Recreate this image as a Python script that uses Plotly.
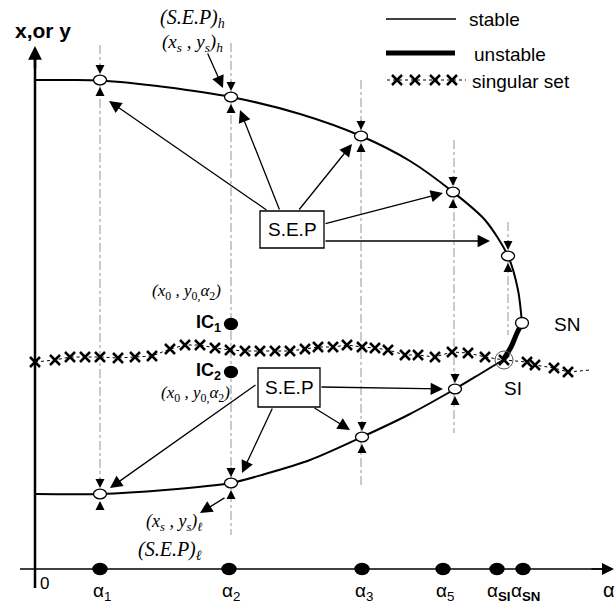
import plotly.graph_objects as go

# ---------------- data (diagram units, y grows downward) ----------------
alpha_labels = ["α<sub>1</sub>", "α<sub>2</sub>", "α<sub>3</sub>", "α<sub>5</sub>",
                "α<sub><b>SI</b></sub>", "α<sub><b>SN</b></sub>"]
alpha_pos = [100, 229, 362, 443, 497, 523]
alpha_axis_level = 569

upper_curve_x = [35, 70, 100, 165, 231, 300, 361, 410, 453, 485, 508, 518, 522]
upper_curve_y = [80, 80, 80.5, 87, 97, 114, 136, 161, 192, 220, 256, 290, 323]
unstable_x = [522, 517, 511, 503]
unstable_y = [323, 333, 347, 360]
lower_curve_x = [503, 480, 455, 410, 362, 310, 265, 231, 165, 100, 35]
lower_curve_y = [360, 374, 389, 414, 437, 460, 474, 483, 490, 494, 494]

sep_upper_x = [100, 231, 361, 453, 508]
sep_upper_y = [80, 97, 136, 192, 256]
sep_lower_x = [100, 231, 362, 455]
sep_lower_y = [494, 483, 437, 389]
sn_point = (522, 323)
si_point = (504, 360)

singular_x = [35, 55, 70, 85, 100, 118, 135, 152, 170, 185, 200, 215, 230, 245, 260, 275,
              290, 305, 318, 333, 347, 362, 375, 388, 405, 418, 435, 452, 468, 485, 504,
              527, 535, 554, 568]
singular_y = [362, 360, 357, 357, 357, 358, 357, 356, 349, 345, 345, 348, 350, 351, 351, 351,
              351, 349, 347, 347, 345, 347, 348, 350, 355, 355, 357, 352, 353, 357, 360,
              362, 365, 368, 372]
singular_tail_x = [568, 590]
singular_tail_y = [372, 370]

ic_x = [231, 231]
ic_y = [324, 372]

# dashed guide columns: (x, top, bottom)
guide_x = [100, 231, 361, 454, 508]
guide_top = [45, 43, 80, 140, 222]
guide_bottom = [485, 535, 487, 433, 335]

# pointer arrows (tail -> tip)
arrow_tail_x = [268, 280, 298, 324, 324, 257, 273, 313, 320, 207, 226]
arrow_tail_y = [211, 211, 211, 224, 241, 384, 407, 407, 387, 52, 497]
arrow_tip_x = [109, 240, 352, 443, 490, 110, 242, 350, 443, 223, 200]
arrow_tip_y = [101, 110, 144, 193, 241, 488, 473, 430, 389, 88, 513]

boxes = [(260, 211, 324, 248), (258, 368, 320, 407)]

fig = go.Figure()

# axes
fig.add_trace(go.Scatter(x=[35, 35], y=[588, 56], mode="lines",
                         line=dict(color="black", width=2.5), hoverinfo="skip"))
fig.add_trace(go.Scatter(x=[20, 604], y=[alpha_axis_level] * 2, mode="lines",
                         line=dict(color="black", width=1.6), hoverinfo="skip"))

# guides
for gx, gt, gb in zip(guide_x, guide_top, guide_bottom):
    fig.add_trace(go.Scatter(x=[gx, gx], y=[gt, gb], mode="lines",
                             line=dict(color="#8a8a8a", width=0.9, dash="dashdot"),
                             hoverinfo="skip"))

# curves
fig.add_trace(go.Scatter(x=upper_curve_x, y=upper_curve_y, mode="lines",
                         line=dict(color="black", width=2, shape="spline", smoothing=0.8),
                         hoverinfo="skip"))
fig.add_trace(go.Scatter(x=lower_curve_x, y=lower_curve_y, mode="lines",
                         line=dict(color="black", width=2, shape="spline", smoothing=0.8),
                         hoverinfo="skip"))
fig.add_trace(go.Scatter(x=unstable_x, y=unstable_y, mode="lines",
                         line=dict(color="black", width=5, shape="spline"),
                         hoverinfo="skip"))

# singular set
fig.add_trace(go.Scatter(x=singular_x, y=singular_y, mode="lines+markers",
                         line=dict(color="black", width=1, dash="dot"),
                         marker=dict(symbol="x-thin", size=10,
                                     line=dict(color="black", width=2.5)),
                         hoverinfo="skip"))
fig.add_trace(go.Scatter(x=singular_tail_x, y=singular_tail_y, mode="lines",
                         line=dict(color="black", width=1, dash="dot"), hoverinfo="skip"))

# legend samples
fig.add_trace(go.Scatter(x=[386, 456], y=[19, 19], mode="lines",
                         line=dict(color="black", width=1.5), hoverinfo="skip"))
fig.add_trace(go.Scatter(x=[386, 455], y=[53, 53], mode="lines",
                         line=dict(color="black", width=5), hoverinfo="skip"))
fig.add_trace(go.Scatter(x=[387, 466], y=[80, 80], mode="lines",
                         line=dict(color="black", width=1, dash="dot"), hoverinfo="skip"))
fig.add_trace(go.Scatter(x=[397, 415, 435, 452], y=[80, 80, 80, 80], mode="markers",
                         marker=dict(symbol="x-thin", size=10,
                                     line=dict(color="black", width=2.5)),
                         hoverinfo="skip"))

shapes = []


def ellipse(cx, cy, rx, ry, fill, lw=1.3):
    return dict(type="circle", xref="x", yref="y", x0=cx - rx, x1=cx + rx,
                y0=cy - ry, y1=cy + ry, fillcolor=fill,
                line=dict(color="black", width=lw), layer="above")


for px, py in zip(sep_upper_x + sep_lower_x, sep_upper_y + sep_lower_y):
    shapes.append(ellipse(px, py, 6.5, 4.8, "white"))
shapes.append(ellipse(sn_point[0], sn_point[1], 6.5, 5.5, "white"))
shapes.append(dict(type="circle", xref="x", yref="y", x0=si_point[0] - 9, x1=si_point[0] + 9,
                   y0=si_point[1] - 9, y1=si_point[1] + 9,
                   line=dict(color="#555", width=1), layer="above"))
for ax_ in alpha_pos:
    shapes.append(ellipse(ax_, alpha_axis_level, 7, 5.5, "black"))
for cx, cy in zip(ic_x, ic_y):
    shapes.append(ellipse(cx, cy, 6.5, 5.5, "black"))
for (x0, y0, x1, y1) in boxes:
    shapes.append(dict(type="rect", xref="x", yref="y", x0=x0, y0=y0, x1=x1, y1=y1,
                       fillcolor="white", line=dict(color="black", width=1.3),
                       layer="above"))

annotations = []


def arrow(tx, ty, hx, hy, w=1.3, size=1.5):
    annotations.append(dict(x=hx, y=hy, ax=tx, ay=ty, xref="x", yref="y",
                            axref="x", ayref="y", showarrow=True, arrowhead=2,
                            arrowsize=size, arrowwidth=w, arrowcolor="black",
                            standoff=0, startstandoff=0, text=""))


for tx, ty, hx, hy in zip(arrow_tail_x, arrow_tail_y, arrow_tip_x, arrow_tip_y):
    arrow(tx, ty, hx, hy, w=1.3, size=1.9)

# small squeeze arrows along guides
for px, py in zip(sep_upper_x + sep_lower_x, sep_upper_y + sep_lower_y):
    arrow(px, py - 17, px, py - 6, w=1, size=1.8)
    arrow(px, py + 17, px, py + 7, w=1, size=1.8)

# x-axis arrowhead
arrow(590, alpha_axis_level, 614, alpha_axis_level, w=1.6, size=1.5)
# y-axis arrowhead
arrow(35, 70, 35, 46, w=2.5, size=1.1)


def text(x, y, s, size=15, family="Liberation Sans, Arial", xanchor="center"):
    annotations.append(dict(x=x, y=y, xref="x", yref="y", text=s, showarrow=False,
                            xanchor=xanchor, yanchor="middle",
                            font=dict(size=size, family=family, color="black")))


serif = "Liberation Serif, Times New Roman"
text(43, 30, "<b>x,or y</b>", size=21)
text(192, 18, "<i>(S.E.P)</i><sub><i>h</i></sub>", size=20, family=serif)
text(192, 43, "<i>(x</i><sub><i>s</i></sub><i> , y</i><sub><i>s</i></sub><i>)</i><sub><i>h</i></sub>",
     size=19, family=serif)
text(186, 292, "<i>(x</i><sub>0</sub><i> , y</i><sub>0,</sub><i>α</i><sub>2</sub><i>)</i>",
     size=17, family=serif)
text(195, 394, "<i>(x</i><sub>0</sub><i> , y</i><sub>0,</sub><i>α</i><sub>2</sub><i>)</i>",
     size=17, family=serif)
text(174, 522, "<i>(x</i><sub><i>s</i></sub><i> , y</i><sub><i>s</i></sub><i>)</i><sub><i>ℓ</i></sub>",
     size=18, family=serif)
text(170, 550, "<i>(S.E.P)</i><sub><i>ℓ</i></sub>", size=20, family=serif)
text(223, 323, "<b>IC<sub>1</sub></b>", size=18, xanchor="right")
text(223, 371, "<b>IC<sub>2</sub></b>", size=18, xanchor="right")
text(292, 229, "S.E.P", size=19)
text(289, 387, "S.E.P", size=19)
text(567, 324, "SN", size=19)
text(513, 388, "SI", size=19)
text(44, 583, "0", size=17)
text(609, 590, "α", size=20)
for lab, ax_ in zip(alpha_labels, alpha_pos):
    text(ax_ + 2, 592, lab, size=19)
text(467, 19, "stable", size=19, xanchor="left")
text(472, 54, "unstable", size=19, xanchor="left")
text(470, 81, "singular set", size=19, xanchor="left")

fig.update_layout(
    width=615, height=605,
    margin=dict(l=0, r=0, t=0, b=0),
    paper_bgcolor="white", plot_bgcolor="white",
    showlegend=False,
    xaxis=dict(range=[0, 615], visible=False, fixedrange=True),
    yaxis=dict(range=[605, 0], visible=False, fixedrange=True),
    shapes=shapes,
    annotations=annotations,
)

fig.write_html("out.html", config={"displayModeBar": False},
               post_script="document.body.style.margin='0px';")
